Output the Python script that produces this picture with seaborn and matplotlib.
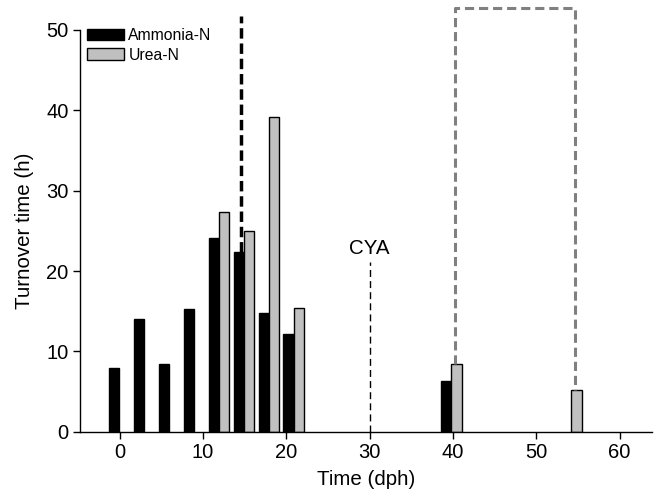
import numpy as np
import pandas as pd
import matplotlib
matplotlib.use("Agg")
import matplotlib.pyplot as plt
from matplotlib.patches import Patch
import seaborn as sns

# ---- data ----
days = [-0.1, 2.9, 5.9, 8.9, 11.9, 14.9, 17.9, 20.9, 39.8, 54.2]
ammonia = [8.0, 14.0, 8.5, 15.3, 24.1, 22.4, 14.8, 12.2, 6.3, np.nan]
urea = [np.nan, np.nan, np.nan, np.nan, 27.3, 25.0, 39.2, 15.4, 8.5, 5.2]
series_names = ["Ammonia-N", "Urea-N"]
x_ticks = [0, 10, 20, 30, 40, 50, 60]
y_ticks = [0, 10, 20, 30, 40, 50]
cya_day = 30
cya_top = 21.1
arrow_day = 14.5
arrow_bottom = 22.4
bracket_left, bracket_right = 40.3, 54.7
bracket_left_bottom, bracket_right_bottom = 8.5, 5.2
bracket_top = 52.7

df = pd.DataFrame({
    "day": days + days,
    "value": ammonia + urea,
    "series": [series_names[0]] * len(days) + [series_names[1]] * len(days),
}).dropna()

sns.set_style("ticks")
plt.rcParams["font.family"] = ["Liberation Sans", "DejaVu Sans"]
plt.rcParams["text.color"] = "black"
plt.rcParams["axes.labelcolor"] = "black"
plt.rcParams["xtick.color"] = "black"
plt.rcParams["ytick.color"] = "black"

fig = plt.figure(figsize=(6.54, 4.97), dpi=100)
ax = fig.add_axes([0.122, 0.131, 0.875, 0.809])

sns.barplot(data=df, x="day", y="value", hue="series", hue_order=series_names,
            palette={"Ammonia-N": "black", "Urea-N": "#c0c0c0"},
            native_scale=True, width=0.83, dodge=True, errorbar=None,
            edgecolor="black", linewidth=1.0, legend=False, ax=ax)

ax.set_xlim(-4.8, 63.9)
ax.set_ylim(0, 50)
ax.set_xticks(x_ticks)
ax.set_yticks(y_ticks)
ax.tick_params(axis="both", direction="out", length=5, width=1, labelsize=14.5,
               colors="black", pad=3)
for s in ["top", "right"]:
    ax.spines[s].set_visible(False)
for s in ["left", "bottom"]:
    ax.spines[s].set_linewidth(1.0)
    ax.spines[s].set_color("black")

ax.set_xlabel("Time (dph)", fontsize=14.8, labelpad=6)
ax.set_ylabel("Turnover time (h)", fontsize=14.8, labelpad=9)

# annotations
ax.plot([cya_day, cya_day], [0, cya_top], color="black", lw=1.0, ls=(0, (5, 3)))
ax.text(cya_day, cya_top + 0.5, "CYA", ha="center", va="bottom", fontsize=14.8)
ax.plot([arrow_day, arrow_day], [arrow_bottom, 51.7], color="black", lw=2.5,
        ls=(0, (3, 1.4)), clip_on=False)
ax.plot([bracket_left, bracket_left, bracket_right, bracket_right],
        [bracket_left_bottom, bracket_top, bracket_top, bracket_right_bottom],
        color="#808080", lw=2.2, ls=(0, (3, 1.6)), clip_on=False)

handles = [Patch(facecolor="black", edgecolor="black", label=series_names[0]),
           Patch(facecolor="#c0c0c0", edgecolor="black", label=series_names[1])]
ax.legend(handles=handles, loc="upper left", bbox_to_anchor=(0.001, 1.02),
          frameon=False, fontsize=11.3, handlelength=2.36, handleheight=0.76,
          handletextpad=0.3, labelspacing=0.3, borderaxespad=0.0)

fig.savefig("out.png", dpi=100)
